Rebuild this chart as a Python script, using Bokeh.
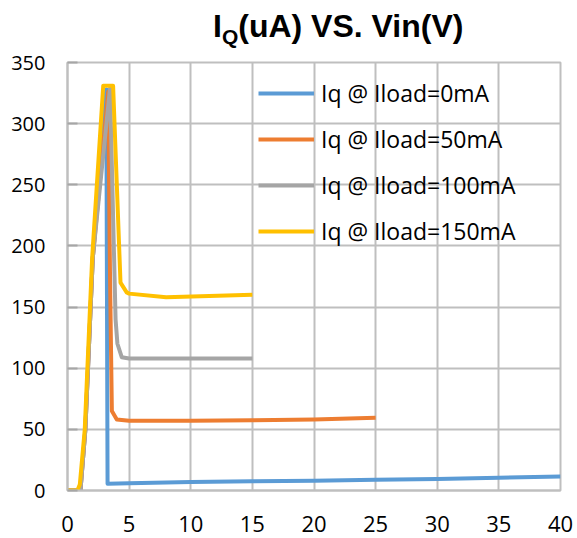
from bokeh.plotting import figure
from bokeh.models import Range1d, FixedTicker, Div
from bokeh.layouts import column
from bokeh.embed import file_html
from bokeh.resources import INLINE

# ---- data ----
vin_0mA = [0, 1.05, 1.45, 2.05, 3.15, 3.25, 5, 10, 15, 20, 25, 30, 35, 40]
iq_0mA = [0, 0, 50, 190, 328, 5.5, 6, 7, 7.5, 8, 8.7, 9.5, 10.5, 11.5]

vin_50mA = [0, 1.05, 1.45, 2.05, 3.3, 3.45, 3.6, 4.0, 5, 10, 15, 20, 25]
iq_50mA = [0, 0, 50, 190, 326, 175, 65, 58, 57, 57, 57.5, 58, 59.5]

vin_100mA = [0, 1.05, 1.45, 2.05, 3.45, 3.9, 4.05, 4.4, 5, 10, 15]
iq_100mA = [0, 0, 50, 190, 329, 140, 120, 109, 108, 108, 108]

vin_150mA = [0, 0.8, 1.0, 1.4, 2.0, 2.9, 3.7, 4.3, 4.8, 5, 8, 15]
iq_150mA = [0, 0, 5, 50, 190, 331, 331, 170, 162, 161, 158, 160]

series_labels = ["Iq @ Iload=0mA", "Iq @ Iload=50mA", "Iq @ Iload=100mA", "Iq @ Iload=150mA"]
series_colors = ["#5B9BD5", "#ED7D31", "#A5A5A5", "#FFC000"]

x_ticks = [0, 5, 10, 15, 20, 25, 30, 35, 40]
y_ticks = [0, 50, 100, 150, 200, 250, 300, 350]

GRID = "#BFBFBF"

title = Div(
    text=('<div style="margin:0;padding-top:6px;padding-left:213px;'
          "font-family:'Liberation Sans',Arial,sans-serif;font-weight:bold;"
          'font-size:32px;line-height:40px;color:black;white-space:nowrap">'
          'I<span style="font-size:21px;position:relative;top:7px">Q</span>'
          '(uA) VS. Vin(V)</div>'),
    width=577, height=50, margin=0)

p = figure(width=577, height=488,
           x_range=Range1d(0, 40), y_range=Range1d(0, 350),
           output_backend="svg", toolbar_location=None,
           min_border_left=67, min_border_right=17,
           min_border_top=12, min_border_bottom=48, margin=0)
p.title.visible = False
p.outline_line_color = GRID
p.outline_line_width = 2
p.background_fill_color = "white"
p.border_fill_color = "white"

p.xaxis.ticker = FixedTicker(ticks=x_ticks)
p.yaxis.ticker = FixedTicker(ticks=y_ticks)
p.xgrid.ticker = FixedTicker(ticks=x_ticks)
p.ygrid.ticker = FixedTicker(ticks=y_ticks)
for g in (p.xgrid, p.ygrid):
    g.grid_line_color = GRID
    g.grid_line_width = 2

for ax in (p.xaxis, p.yaxis):
    ax.axis_line_color = GRID
    ax.axis_line_width = 2
    ax.minor_tick_line_color = None
    ax.major_label_text_font = "Open Sans"
    ax.major_label_text_color = "black"

p.xaxis.major_tick_line_color = None
p.xaxis.major_label_text_font_size = "22px"
p.xaxis.major_label_standoff = 19

p.yaxis.major_tick_line_color = "#A6A6A6"
p.yaxis.major_tick_line_width = 2
p.yaxis.major_tick_in = 10
p.yaxis.major_tick_out = 0
p.yaxis.major_label_text_font_size = "20px"
p.yaxis.major_label_standoff = 22

xs = [vin_0mA, vin_50mA, vin_100mA, vin_150mA]
ys = [iq_0mA, iq_50mA, iq_100mA, iq_150mA]
for x, y, lab, col in zip(xs, ys, series_labels, series_colors):
    p.line(x, y, line_color=col, line_width=4, line_join="round", legend_label=lab)

lg = p.legend[0]
lg.location = (191, 243)
lg.background_fill_alpha = 0
lg.border_line_color = None
lg.padding = 0
lg.margin = 0
lg.glyph_width = 56
lg.glyph_height = 30
lg.label_height = 30
lg.spacing = 14
lg.label_standoff = 7
lg.label_text_font = "Open Sans"
lg.label_text_font_size = "23px"
lg.label_text_color = "black"

layout = column(title, p, spacing=0, margin=0)
open("out.html", "w").write(file_html(layout, INLINE))
